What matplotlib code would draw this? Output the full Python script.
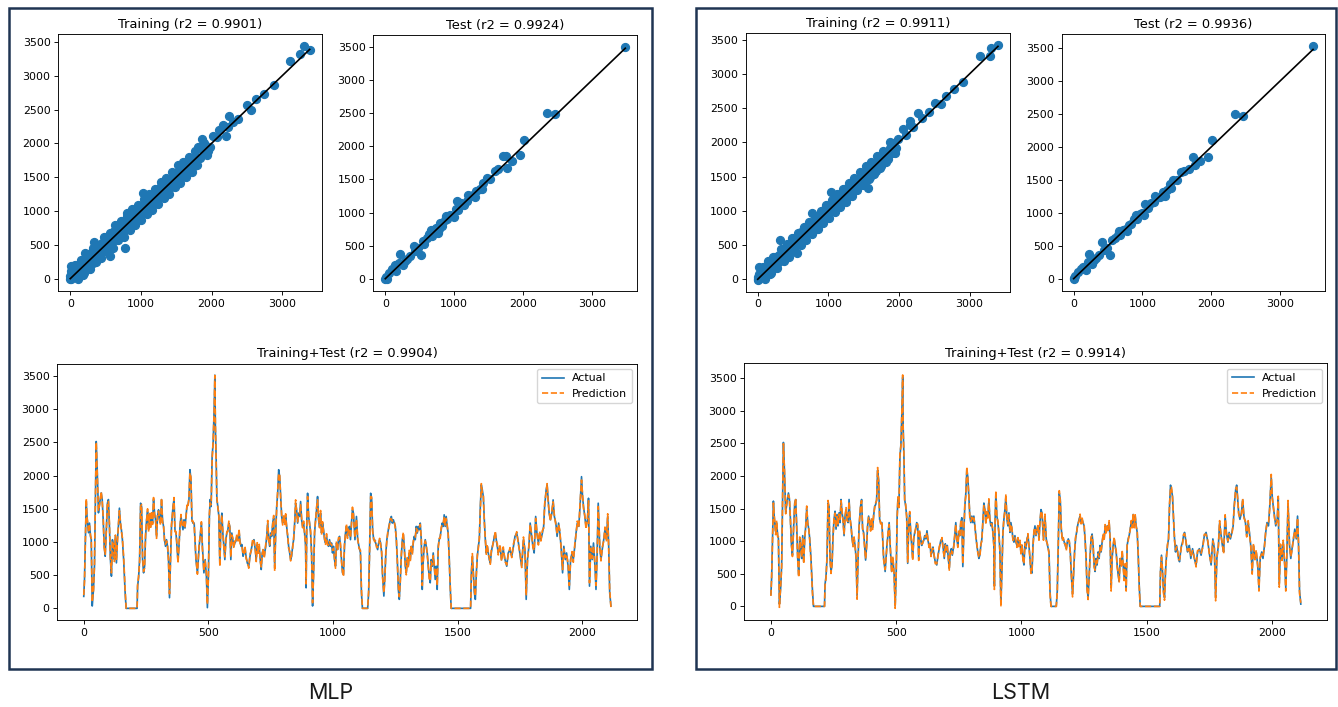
import matplotlib
matplotlib.use("Agg")
import matplotlib.pyplot as plt
from matplotlib.patches import Rectangle
import numpy as np

t_index = [0,3,10,13,19,23,27,30,34,39,
 43,47,50,54,59,64,70,74,78,82,
 86,91,95,99,103,107,111,115,119,123,
 127,131,135,139,143,147,151,155,160,166,
 170,214,216,220,224,228,232,236,240,244,
 248,252,256,260,264,268,272,276,280,284,
 288,292,296,300,304,308,312,316,320,324,
 328,332,336,340,344,348,352,358,362,366,
 370,374,378,382,386,390,394,398,402,406,
 410,414,418,422,426,430,434,438,443,
 450,456,463,468,472,476,482,487,492,496,
 500,504,507,511,515,519,523,526,528,531,
 534,538,542,546,550,554,558,562,566,570,
 574,578,582,586,590,594,598,602,606,610,
 614,619,623,627,631,635,639,643,647,651,
 656,662,667,672,678,683,688,692,696,700,
 704,708,712,716,720,724,730,734,738,742,
 746,750,754,758,762,766,770,774,778,782,
 786,790,794,798,802,806,810,814,818,822,
 826,830,834,838,842,846,850,854,858,862,
 866,870,874,878,882,886,890,892,895,898,
 902,906,910,914,918,922,926,930,934,938,
 942,946,950,954,958,962,966,970,974,978,
 982,986,990,994,998,1002,1006,1010,1014,1018,
 1022,1026,1030,1034,1038,1042,1046,1050,1054,1058,
 1062,1066,1070,1074,1078,1082,
 1088,1094,1099,1104,1110,1114,1118,1139,1143,1147,
 1151,1155,1159,1163,1167,1171,1175,1179,1183,1187,
 1191,1195,1199,1204,1208,1212,1216,1220,1224,1230,
 1234,1238,1242,1246,1250,1254,1258,1262,1266,1270,
 1274,1278,1282,1286,1290,1294,1298,1302,1306,1310,
 1314,1318,1322,1326,1330,1334,1338,1342,1346,1350,
 1354,1358,1362,1366,1370,1374,1378,1382,1386,1390,
 1394,1398,1402,1406,1410,1414,1418,1422,1426,1430,
 1434,1438,1442,1446,1450,1454,1458,1462,1466,1470,
 1474,1552,1555,1559,1563,1567,1571,1575,1579,1583,
 1587,1591,1595,1599,1603,1607,1611,1615,1619,1623,
 1627,1631,1635,1639,1643,1647,1651,1655,1659,1663,
 1667,
 1670,1676,1683,1690,1697,1703,1710,1717,1724,1730,
 1737,1744,1751,1757,1764,1770,1775,1780,1786,1791,
 1797,1802,1807,1813,1818,1824,1829,1834,1840,1845,
 1849,1855,1859,1863,1867,1872,1878,1883,1888,1894,
 1899,1905,1910,1915,1921,1926,1932,1937,1943,1948,
 1953,1959,1964,1970,1975,1980,1986,1991,1997,2001,
 2005,2010,2015,2021,2025,2029,2034,2040,2045,2051,
 2055,2059,2064,2070,2075,2080,2086,2091,2097,2102,
 2106,2110,2115]

actual = [180,440,1615,1390,1140,1285,1085,1040,35,285,
 640,1740,2515,2090,1440,1590,1740,1640,1335,935,
 785,1235,1585,1640,1235,735,485,1035,935,735,
 1085,685,1035,1235,1510,1285,1185,1035,735,235,
 0,0,335,460,735,1585,1535,735,535,635,
 1085,1335,1460,1185,1410,1235,1435,1285,1640,1435,
 1335,1085,1385,1485,1335,1285,1640,1335,1235,1035,
 935,1035,935,735,160,735,1235,1535,1640,1185,
 1135,935,710,935,1235,1385,1285,1185,1335,1210,
 1385,1535,1560,1640,2090,1940,1335,1285,1285,
 735,535,935,1135,1285,935,535,735,485,10,
 485,1385,1640,1535,2290,2490,2990,3515,2740,2290,
 1640,1535,1385,660,1235,1435,1135,935,735,1035,
 1135,1185,1285,1235,735,1135,1035,935,985,1010,
 1085,1035,1160,1010,935,960,785,835,910,785,
 685,635,785,885,1010,1035,885,735,960,835,
 935,735,585,835,885,785,935,1085,1285,1035,
 935,1135,1085,1285,1360,610,1135,1535,1735,2090,
 1985,1685,1385,1285,1385,1285,1385,1235,1085,935,
 835,735,785,935,1035,1285,1585,1485,1285,1435,
 1385,1610,1335,1235,1285,1135,935,310,1335,1735,
 1385,1285,1135,835,35,535,1135,1335,1485,1685,
 1335,1235,1435,1135,1285,1185,1035,985,1085,985,
 935,1035,935,985,835,935,735,635,985,885,
 1035,1085,935,735,535,510,935,1135,1235,1085,
 1185,1235,1035,1285,1485,1435,
 1035,1385,1035,935,835,235,0,0,235,935,
 1735,1640,1185,1035,1035,985,935,885,985,1035,
 985,835,485,185,485,835,1035,1135,1235,1335,
 1385,1285,1335,1285,1235,1035,735,285,135,435,
 785,1035,1110,935,635,535,735,635,835,735,
 935,835,985,1085,1035,1235,1135,1235,1185,1285,
 1035,285,735,935,1035,935,835,635,485,385,
 735,635,835,635,435,635,285,935,1035,1085,
 1185,1285,1235,1410,1235,1385,1235,1135,785,335,
 0,0,535,785,535,235,135,535,785,935,
 1035,1535,1860,1785,1685,1335,1035,835,935,835,
 735,685,835,935,985,1085,1135,1035,935,835,
 885,
 935,735,885,735,635,835,885,785,935,1085,
 1135,985,785,635,1035,885,135,735,935,1285,
 1085,935,835,1385,1135,985,1135,1035,1135,1235,
 1535,1785,1860,1635,1435,1335,1435,1635,1385,1285,
 1085,1285,1135,935,535,935,735,835,635,285,
 735,835,735,935,1135,1285,1235,1535,1985,1685,
 1535,1385,1235,1335,1660,335,935,735,985,635,
 285,735,1585,935,735,885,1035,1185,1035,1385,
 935,235,35]

# prediction minus actual, per model (small offsets seen where the lines part)
mlp_error = [20,-30,40,-20,30,-40,20,10,60,-20,
 30,-50,-10,-40,30,-20,20,-30,40,-20,
 30,-40,20,-30,40,30,50,-20,30,-30,
 20,40,-30,20,-40,30,-20,30,40,50,
 0,0,20,30,-40,-50,30,40,20,-30,
 30,-20,40,-30,20,-40,30,-20,30,-40,
 20,-30,40,-20,30,-30,20,-40,30,-20,
 30,-20,40,-30,60,-40,30,-20,30,-30,
 20,40,-30,20,-30,30,-20,40,-30,20,
 -30,20,-40,30,-50,40,-20,30,-30,
 30,-20,40,-30,20,-40,30,-20,40,50,
 -30,40,-50,30,-60,40,-40,-5,60,-40,
 30,-20,40,-30,20,-30,30,-20,40,-30,
 20,-30,30,-20,40,-30,20,-30,30,-20,
 30,-20,40,-30,20,-30,30,-20,30,-30,
 20,-30,30,-20,40,-30,20,-30,30,-20,
 30,-20,40,-30,20,-30,30,-20,40,-30,
 20,-30,30,-20,40,-50,30,-40,50,-60,
 40,-30,20,-30,30,-20,40,-30,20,-30,
 30,-20,40,-30,20,-40,50,-30,20,-30,
 40,-50,30,-20,30,-20,30,60,-40,-50,
 30,-20,40,-30,50,-40,30,-20,40,-50,
 30,-20,40,-30,20,-30,30,-20,40,-30,
 20,-30,30,-20,40,-30,20,-30,30,-20,
 30,-20,40,-30,20,-30,30,-20,40,-30,
 20,-30,30,-20,40,-30,
 30,-40,20,-30,40,60,0,0,30,-40,
 -50,40,-30,20,-30,30,-20,40,-30,20,
 -30,40,-30,50,-40,30,-20,30,-30,20,
 -40,30,-20,30,-40,20,-30,50,40,-30,
 30,-20,40,-30,20,-30,30,-20,40,-30,
 20,-30,30,-20,40,-30,20,-30,30,-20,
 30,60,-40,30,-20,30,-30,20,-40,30,
 -30,20,-40,30,50,-30,60,-40,20,-30,
 30,-20,40,-30,20,-30,30,-20,-40,40,
 0,0,-30,40,-30,40,50,-30,20,-30,
 30,-40,20,-50,30,-40,30,-20,30,-20,
 30,-20,40,-30,20,-30,30,-20,40,-30,
 20,
 30,-20,40,-30,20,-30,30,-20,40,-30,
 20,-30,30,-20,40,-30,60,-40,30,-20,
 30,-20,40,-30,20,-30,30,-20,40,-30,
 40,-30,20,-40,30,-20,40,-30,20,-30,
 30,-20,40,-30,50,-40,30,-20,40,60,
 -30,20,-40,30,-20,30,-20,40,-50,30,
 -30,20,-40,30,-40,50,-30,20,-40,30,
 60,-40,-50,30,-20,30,-20,40,-30,40,
 -40,50,-20]

lstm_error = [-20,30,-30,20,-40,30,-20,30,-50,30,
 -30,40,-20,30,-20,30,-30,20,-30,30,
 -20,30,-30,20,-30,-20,-40,30,-20,20,
 -30,-30,20,-30,30,-20,30,-20,-30,-40,
 0,0,-20,-30,30,40,-20,-30,-30,20,
 -20,30,-30,20,-30,30,-20,30,-20,30,
 -30,20,-30,30,-20,20,-30,30,-20,30,
 -20,30,-30,20,-50,30,-20,30,-20,20,
 -30,-30,20,-30,20,-20,30,-30,20,-30,
 20,-30,30,-20,40,-30,30,-20,20,
 -20,30,-30,20,-30,30,-20,30,-30,-40,
 20,-30,40,-20,50,-30,40,35,-50,30,
 -20,30,-30,20,-30,20,-20,30,-30,20,
 -30,20,-20,30,-30,20,-30,20,-20,30,
 -20,30,-30,20,-30,20,-20,30,-20,20,
 -30,20,-20,30,-30,20,-30,20,-20,30,
 -20,30,-30,20,-30,20,-20,30,-30,20,
 -30,20,-20,30,-30,40,-20,30,-40,50,
 -30,20,-30,20,-20,30,-30,20,-30,20,
 -20,30,-30,20,-30,30,-40,20,-30,20,
 -30,40,-20,30,-20,30,-20,-50,30,40,
 -20,30,-30,20,-40,30,-20,30,-30,40,
 -20,30,-30,20,-30,20,-20,30,-30,20,
 -30,20,-20,30,-30,20,-30,20,-20,30,
 -20,30,-30,20,-30,20,-20,30,-30,20,
 -30,20,-20,30,-30,20,
 -20,30,-30,20,-30,-50,0,0,-20,30,
 40,-30,20,-30,20,-20,30,-30,20,-30,
 20,-30,20,-40,30,-20,30,-20,20,-30,
 30,-20,30,-20,30,-30,20,-40,-30,20,
 -20,30,-30,20,-30,20,-20,30,-30,20,
 -30,20,-20,30,-30,20,-30,20,-20,30,
 -20,-50,30,-20,30,-20,20,-30,30,-20,
 20,-30,30,-20,-40,20,-50,30,-30,20,
 -20,30,-30,20,-30,20,-20,30,30,-30,
 0,0,20,-30,20,-30,-40,20,-30,20,
 -20,30,-30,40,-20,30,-20,30,-20,30,
 -20,30,-30,20,-30,20,-20,30,-30,20,
 -30,
 -20,30,-30,20,-30,20,-20,30,-30,20,
 -30,20,-20,30,-30,20,-50,30,-20,30,
 -20,30,-30,20,-30,20,-20,30,-30,20,
 -30,20,-30,30,-20,30,-30,20,-30,20,
 -20,30,-30,20,-40,30,-20,30,-30,-50,
 20,-30,30,-20,30,-20,30,-30,40,-20,
 20,-30,30,-20,30,-40,20,-30,30,-20,
 -50,30,40,-20,30,-20,30,-30,20,-30,
 30,-40,20]

# ---- scatter panels (actual, predicted) ----
mlp_train_actual = [0,0,5,10,15,30,45,60,80,100,120,140,160,180,200,
 210,230,250,270,300,320,340,330,360,380,400,420,450,470,490,
 510,530,550,565,580,600,620,640,660,680,700,720,740,760,777,790,800,
 820,840,860,880,900,920,940,960,980,1000,1020,1036,1050,1070,1090,
 1110,1130,1150,1170,1190,1210,1230,1250,1270,1290,1310,1330,1350,1370,1390,
 1410,1430,1450,1470,1490,1510,1530,1550,1570,1590,1610,1630,1650,1670,1690,
 1710,1730,1750,1780,1810,1840,1860,1880,1920,1950,1980,2025,
 2080,2160,2240,2250,2300,2380,2500,2560,2630,2740,2880,3110,3250,3310,3390,
 70,110,150,190,240,280,320,360,400,440,480,520,560,600,640,680,
 720,760,800,840,880,920,960,1000,1040,1080,1120,1160,1200,1240,1280,1320,
 1360,1400,1440,1480,1520,1560,1600,1640,1680,1720,1760,1800,1900,1940,2100,2200]
mlp_train_pred = [0,40,-10,120,185,60,190,20,150,70,200,90,175,60,140,
 385,170,320,240,380,230,300,540,450,330,480,370,520,400,560,
 450,620,500,330,650,560,700,590,740,640,780,680,810,700,460,860,975,
 760,900,800,950,840,1000,880,1030,920,1080,960,1270,1120,1000,1140,
 1040,1190,1080,1240,1120,1280,1160,1320,1200,1370,1240,1390,1280,1420,1320,
 1460,1350,1500,1400,1560,1440,1580,1470,1630,1520,1660,1550,1700,1590,1720,
 1640,1770,1660,1800,1940,1780,2060,1900,1960,1890,1940,2110,
 2090,2270,2235,2405,2320,2355,2565,2500,2650,2725,2860,3220,3320,3440,3385,
 200,0,280,80,340,150,450,250,500,300,620,410,680,450,790,570,
 850,620,920,720,1030,790,1090,870,1180,960,1250,1010,1330,1110,1430,1190,
 1490,1250,1570,1350,1680,1420,1730,1510,1800,1580,1880,1680,2010,1830,2200,2110]

mlp_test_actual = [0,5,20,60,100,135,160,200,218,250,280,320,360,412,430,480,
 524,548,560,600,640,680,700,740,780,800,830,860,900,940,980,1020,1034,1060,
 1100,1140,1180,1230,1280,1320,1370,1420,1470,1520,1591,1640,1703,1746,1760,
 1834,1955,2014,2353,2464,3483,
 660,760,880,1000,1200,1300,1400]
mlp_test_pred = [0,30,-10,90,150,200,120,230,376,200,260,300,350,501,420,460,
 351,576,530,610,680,650,730,760,750,840,800,880,900,960,950,1050,1177,1040,
 1150,1120,1180,1250,1260,1320,1360,1440,1528,1500,1628,1660,1854,1854,1680,
 1778,1864,2089,2505,2490,3507,
 740,690,950,930,1270,1240,1350]

lstm_train_actual = [0,0,5,19,25,40,60,80,100,120,140,160,180,200,218,
 230,250,270,300,322,320,340,360,380,400,420,450,470,490,510,
 530,550,559,580,600,620,640,660,680,700,720,740,760,772,790,800,
 820,840,860,880,900,920,940,960,980,1000,1020,1033,1050,1070,1090,
 1110,1130,1150,1170,1190,1210,1230,1250,1270,1290,1310,1330,1350,1370,1390,
 1410,1430,1450,1470,1490,1510,1530,1555,1570,1590,1610,1630,1650,1670,1690,
 1710,1730,1750,1780,1810,1840,1870,1900,1930,1960,1981,
 2052,2100,2157,2200,2266,2330,2431,2517,2600,2668,2773,2905,3143,3285,3308,3403,
 70,110,150,190,240,280,330,370,410,450,490,530,570,610,650,690,
 730,770,810,850,890,930,970,1010,1050,1090,1130,1170,1210,1250,1290,1330,
 1370,1410,1450,1490,1530,1570,1610,1650,1690,1730,1770,1820,1880,1950,2150]
lstm_train_pred = [-10,30,10,186,80,150,40,120,60,170,100,190,80,150,332,
 200,280,220,350,577,260,320,420,340,470,380,500,420,540,470,
 600,510,381,630,570,690,600,720,650,760,690,790,710,968,840,720,
 900,780,920,820,960,860,1010,900,1040,940,1080,1271,1000,1130,1040,
 1170,1060,1210,1100,1250,1140,1290,1180,1330,1220,1360,1260,1400,1300,1430,
 1340,1480,1380,1520,1420,1560,1460,1334,1600,1500,1640,1540,1680,1580,1730,
 1630,1760,1650,1800,1860,1760,1920,1850,1990,1920,2043,
 2190,2110,2312,2230,2434,2350,2444,2581,2560,2679,2786,2884,3255,3255,3373,3422,
 180,10,260,90,330,170,440,260,520,330,610,420,680,500,760,580,
 840,660,920,740,1000,820,1080,900,1160,980,1240,1060,1320,1130,1410,1210,
 1480,1300,1560,1380,1650,1460,1720,1540,1800,1620,1880,1720,2000,1850,2260]

lstm_test_actual = [10,0,15,60,100,140,180,210,227,260,290,330,370,410,440,490,
 522,560,600,640,680,720,760,800,840,880,920,960,1000,1040,1080,1120,1160,
 1200,1250,1300,1350,1400,1450,1500,1560,1610,1680,1729,1763,1835,1956,2004,
 2347,2454,3478,
 660,780,900,1020,1180,1320,1420]
lstm_test_pred = [10,-10,40,100,140,180,130,250,379,230,280,320,360,555,430,470,
 364,580,620,660,670,740,750,820,830,900,910,980,990,1130,1070,1150,1160,
 1230,1240,1320,1350,1430,1500,1490,1620,1640,1660,1853,1717,1782,1843,2111,
 2500,2464,3535,
 730,720,960,960,1250,1260,1370]

titles_mlp = ["Training (r2 = 0.9901)", "Test (r2 = 0.9924)", "Training+Test (r2 = 0.9904)"]
titles_lstm = ["Training (r2 = 0.9911)", "Test (r2 = 0.9936)", "Training+Test (r2 = 0.9914)"]

assert len(t_index) == len(actual) == len(mlp_error) == len(lstm_error), \
    (len(t_index), len(actual), len(mlp_error), len(lstm_error))
assert len(mlp_train_actual) == len(mlp_train_pred), (len(mlp_train_actual), len(mlp_train_pred))
assert len(lstm_train_actual) == len(lstm_train_pred), (len(lstm_train_actual), len(lstm_train_pred))
assert len(mlp_test_actual) == len(mlp_test_pred)
assert len(lstm_test_actual) == len(lstm_test_pred)

t_index = np.array(t_index)
actual = np.array(actual)
mlp_pred = actual + np.array(mlp_error)
lstm_pred = actual + np.array(lstm_error)

W, H = 1338, 707
plt.rcParams.update({
    "font.size": 7.9,
    "axes.linewidth": 0.65,
    "xtick.major.size": 2.8, "ytick.major.size": 2.8,
    "xtick.major.width": 0.65, "ytick.major.width": 0.65,
    "xtick.major.pad": 2.8, "ytick.major.pad": 2.8,
    "lines.linewidth": 1.2,
})
fig = plt.figure(figsize=(W / 100, H / 100), dpi=100)


def px_box(l, t, r, b):
    return [l / W, 1 - b / H, (r - l) / W, (b - t) / H]


def scatter_panel(box, a, p, title):
    ax = fig.add_axes(px_box(*box))
    ax.scatter(a, p, s=32, color="#1f77b4", zorder=2)
    lo, hi = min(a), max(a)
    ax.plot([lo, hi], [lo, hi], color="k", lw=1.2, zorder=3)
    ax.set_xticks([0, 1000, 2000, 3000])
    ax.set_yticks(range(0, 3501, 500))
    ax.set_title(title, fontsize=9.4, pad=4.5)
    return ax


def series_panel(box, pred, title):
    ax = fig.add_axes(px_box(*box))
    ax.plot(t_index, actual, color="#1f77b4", lw=1.2, label="Actual")
    ax.plot(t_index, pred, color="#ff7f0e", lw=1.2, ls="--", label="Prediction")
    ax.set_xticks([0, 500, 1000, 1500, 2000])
    ax.set_yticks(range(0, 3501, 500))
    ax.set_title(title, fontsize=9.4, pad=4.5)
    ax.legend(loc="upper right", fontsize=7.9)
    return ax


# MLP panel
scatter_panel((58.3, 34.3, 321.7, 291), mlp_train_actual, mlp_train_pred, titles_mlp[0])
scatter_panel((373.3, 35, 637.3, 291), mlp_test_actual, mlp_test_pred, titles_mlp[1])
series_panel((57.4, 363.5, 637.3, 620), mlp_pred, titles_mlp[2])

# LSTM panel
scatter_panel((745.7, 33.3, 1010, 291.7), lstm_train_actual, lstm_train_pred, titles_lstm[0])
scatter_panel((1061.7, 34, 1325, 291), lstm_test_actual, lstm_test_pred, titles_lstm[1])
series_panel((744.4, 363.3, 1327.3, 620), lstm_pred, titles_lstm[2])

# frames around each model
for (l, t, r, b) in [(9, 8, 652, 669), (696, 8, 1336, 669)]:
    fig.add_artist(Rectangle((l / W, 1 - b / H), (r - l) / W, (b - t) / H,
                             transform=fig.transFigure, fill=False,
                             ec="#1f3452", lw=1.8))

fig.text(331 / W, 1 - 693 / H, "MLP", ha="center", va="center",
         fontsize=15.5, family="Inter", color="#1a1a1a")
fig.text(1021 / W, 1 - 693 / H, "LSTM", ha="center", va="center",
         fontsize=15.5, family="Inter", color="#1a1a1a")

fig.savefig("out.png", dpi=100)
